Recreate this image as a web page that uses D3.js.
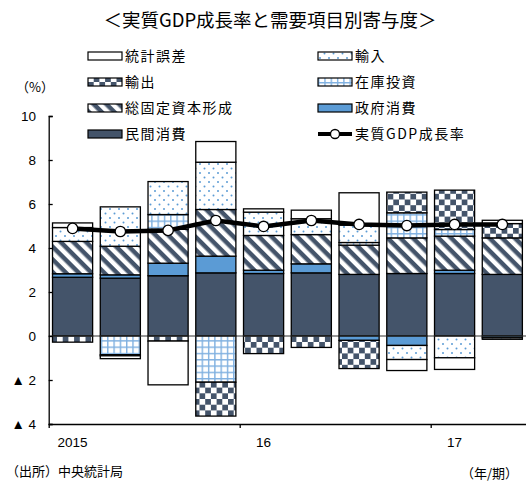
<!DOCTYPE html>
<html>
<head>
<meta charset="utf-8">
<script src="https://cdn.jsdelivr.net/npm/d3@7"></script>
<style>
  body { margin: 0; background: #fff; }
  svg { display: block; font-family: "Liberation Sans", "Noto Sans CJK JP", sans-serif; }
  .jp { font-family: "Noto Sans CJK JP", sans-serif; }
</style>
</head>
<body>
<div id="chart"></div>
<script>
// data (% contribution), 2015 Q1 .. 2017 Q2
const quarters = ["2015Q1", "2015Q2", "2015Q3", "2015Q4", "2016Q1", "2016Q2", "2016Q3", "2016Q4", "2017Q1", "2017Q2"];
const yearLabels = ["2015", "", "", "", "16", "", "", "", "17", ""];
const privateConsumption = [2.67, 2.63, 2.74, 2.87, 2.84, 2.87, 2.80, 2.84, 2.84, 2.80];
const govConsumption = [0.16, 0.15, 0.57, 0.76, 0.15, 0.41, -0.20, -0.43, 0.15, -0.08];
const fixedCapital = [1.47, 1.30, 1.54, 2.12, 1.58, 1.33, 1.33, 1.62, 1.55, 1.66];
const inventory = [0, -0.85, 0.67, -2.10, 0, 0, 0.12, 1.14, 0.30, 0];
const exportsC = [-0.28, -0.05, -0.23, -1.54, -0.80, -0.52, -1.28, 0.94, 1.79, 0.65];
const importsC = [0.63, 1.79, 1.50, 2.15, 1.06, 0.72, 0.79, -0.64, -0.99, -0.07];
const discrepancy = [0.21, -0.13, -1.99, 0.94, 0.15, 0.39, 1.47, -0.50, -0.53, 0.15];
const gdpGrowth = [4.89, 4.75, 4.80, 5.25, 4.98, 5.25, 5.07, 5.02, 5.07, 5.07];
const yTicks = [-4, -2, 0, 2, 4, 6, 8, 10];

const width = 526, height = 482;
const dark = "#44546a", blue = "#5b9bd5";

const series = [
  { key: "民間消費", values: privateConsumption, fill: dark },
  { key: "政府消費", values: govConsumption, fill: blue },
  { key: "総固定資本形成", values: fixedCapital, fill: "url(#hatch)" },
  { key: "在庫投資", values: inventory, fill: "url(#grid)" },
  { key: "輸出", values: exportsC, fill: "url(#checker)" },
  { key: "輸入", values: importsC, fill: "url(#dots)" },
  { key: "統計誤差", values: discrepancy, fill: "#fff" }
];

const rows = quarters.map((q, i) => {
  const r = { q: q };
  series.forEach((s) => (r[s.key] = s.values[i]));
  return r;
});

const svg = d3.select("#chart").append("svg")
  .attr("width", width).attr("height", height);

// patterns
const defs = svg.append("defs");
const hatch = defs.append("pattern").attr("id", "hatch")
  .attr("patternUnits", "userSpaceOnUse").attr("width", 9).attr("height", 9)
  .attr("patternTransform", "rotate(45)");
hatch.append("rect").attr("width", 9).attr("height", 9).attr("fill", "#fff");
hatch.append("rect").attr("width", 9).attr("height", 4.5).attr("fill", dark);

const grid = defs.append("pattern").attr("id", "grid")
  .attr("patternUnits", "userSpaceOnUse").attr("width", 6.3).attr("height", 6.3);
grid.append("rect").attr("width", 6.3).attr("height", 6.3).attr("fill", "#fff");
grid.append("rect").attr("width", 1.4).attr("height", 6.3).attr("fill", "#7fb0e0");
grid.append("rect").attr("width", 6.3).attr("height", 1.4).attr("fill", "#7fb0e0");

const checker = defs.append("pattern").attr("id", "checker")
  .attr("patternUnits", "userSpaceOnUse").attr("width", 11.4).attr("height", 11.4);
checker.append("rect").attr("width", 11.4).attr("height", 11.4).attr("fill", "#fff");
checker.append("rect").attr("width", 5.7).attr("height", 5.7).attr("fill", dark);
checker.append("rect").attr("x", 5.7).attr("y", 5.7).attr("width", 5.7).attr("height", 5.7).attr("fill", dark);

const dots = defs.append("pattern").attr("id", "dots")
  .attr("patternUnits", "userSpaceOnUse").attr("width", 9).attr("height", 9);
dots.append("rect").attr("width", 9).attr("height", 9).attr("fill", "#fff");
dots.append("circle").attr("cx", 2).attr("cy", 2).attr("r", 1).attr("fill", blue);
dots.append("circle").attr("cx", 6.5).attr("cy", 6.5).attr("r", 1).attr("fill", blue);

// scales
const x = d3.scaleBand().domain(quarters).range([48.7, 526.2])
  .paddingInner(0.16).paddingOuter(0.08);
const y = d3.scaleLinear().domain([-4, 10]).range([424, 116]);

// title
svg.append("text").attr("class", "jp")
  .attr("x", 270).attr("y", 27).attr("text-anchor", "middle")
  .attr("font-size", 18.5).attr("fill", "#000")
  .text("＜実質GDP成長率と需要項目別寄与度＞");

// legend
const legendItems = [
  { key: "統計誤差", col: 0, row: 0 },
  { key: "輸出", col: 0, row: 1 },
  { key: "総固定資本形成", col: 0, row: 2 },
  { key: "民間消費", col: 0, row: 3 },
  { key: "輸入", col: 1, row: 0 },
  { key: "在庫投資", col: 1, row: 1 },
  { key: "政府消費", col: 1, row: 2 },
  { key: "実質GDP成長率", col: 1, row: 3, line: true }
];
const legend = svg.append("g");
legendItems.forEach((it) => {
  const lx = it.col === 0 ? 88 : 318;
  const ly = 56 + it.row * 26;
  const g = legend.append("g").attr("transform", `translate(${lx},${ly})`);
  if (it.line) {
    g.append("line").attr("x1", 0).attr("x2", 34).attr("y1", 0).attr("y2", 0)
      .attr("stroke", "#000").attr("stroke-width", 4);
    g.append("circle").attr("cx", 17).attr("cy", 0).attr("r", 4.5)
      .attr("fill", "#fff").attr("stroke", "#000").attr("stroke-width", 1.3);
  } else {
    const s = series.find((d) => d.key === it.key);
    g.append("rect").attr("x", 0).attr("y", -4).attr("width", 34).attr("height", 8)
      .attr("fill", s.fill).attr("stroke", "#000").attr("stroke-width", 1.2);
  }
  g.append("text").attr("class", "jp").attr("x", 37).attr("y", 5)
    .attr("font-size", 14).attr("letter-spacing", 1.5).text(it.key);
});

svg.append("text").attr("class", "jp").attr("x", 16).attr("y", 92)
  .attr("font-size", 13).text("（%）");

// bars
const stacked = d3.stack().keys(series.map((s) => s.key))
  .offset(d3.stackOffsetDiverging)(rows);

svg.append("g").selectAll("g")
  .data(stacked)
  .join("g")
  .attr("fill", (d, i) => series[i].fill)
  .selectAll("rect")
  .data((d) => d.filter((p) => p[1] !== p[0]))
  .join("rect")
  .attr("x", (d) => x(d.data.q))
  .attr("width", x.bandwidth())
  .attr("y", (d) => y(d[1]))
  .attr("height", (d) => y(d[0]) - y(d[1]))
  .attr("stroke", "#000")
  .attr("stroke-width", 1.3);

// zero line
svg.append("line").attr("x1", 48.7).attr("x2", width)
  .attr("y1", y(0)).attr("y2", y(0))
  .attr("stroke", "#333").attr("stroke-width", 1);

// gdp line
const line = d3.line().x((d, i) => x(quarters[i]) + x.bandwidth() / 2).y((d) => y(d));
svg.append("path").datum(gdpGrowth).attr("d", line)
  .attr("fill", "none").attr("stroke", "#000").attr("stroke-width", 4.5)
  .attr("stroke-linejoin", "round");
svg.append("g").selectAll("circle").data(gdpGrowth).join("circle")
  .attr("cx", (d, i) => x(quarters[i]) + x.bandwidth() / 2)
  .attr("cy", (d) => y(d))
  .attr("r", 5.2)
  .attr("fill", "#fff").attr("stroke", "#000").attr("stroke-width", 1.3);

// y axis
const yAxis = d3.axisRight(y).tickValues(yTicks).tickSize(4)
  .tickFormat(() => "");
svg.append("g").attr("transform", "translate(48.7,0)").call(yAxis)
  .call((g) => g.select(".domain").attr("stroke", "#000").attr("stroke-width", 1.3))
  .call((g) => g.selectAll(".tick line").attr("stroke", "#000").attr("stroke-width", 1.3));
svg.append("g").selectAll("text").data(yTicks).join("text")
  .attr("x", 36).attr("y", (d) => y(d) + 5)
  .attr("text-anchor", "end").attr("font-size", 13.5)
  .text((d) => (d < 0 ? "▲ " + Math.abs(d) : d));

// x axis
const xAxis = d3.axisBottom(d3.scaleLinear().domain([0, 10]).range([48.7, 526.2]))
  .tickValues([4, 8]).tickSize(4).tickFormat(() => "");
svg.append("g").attr("transform", `translate(0,${y(-4)})`).call(xAxis)
  .call((g) => g.select(".domain").attr("stroke", "#000").attr("stroke-width", 1.3))
  .call((g) => g.selectAll(".tick line").attr("stroke", "#000").attr("stroke-width", 1.3));
svg.append("g").selectAll("text").data(quarters).join("text")
  .attr("x", (d) => x(d) + x.bandwidth() / 2)
  .attr("y", 447).attr("text-anchor", "middle").attr("font-size", 13.5)
  .text((d, i) => yearLabels[i]);

// notes
svg.append("text").attr("class", "jp").attr("x", 6).attr("y", 476)
  .attr("font-size", 13).text("（出所）中央統計局");
svg.append("text").attr("class", "jp").attr("x", 518).attr("y", 478)
  .attr("text-anchor", "end").attr("font-size", 13).text("（年/期）");
</script>
</body>
</html>
